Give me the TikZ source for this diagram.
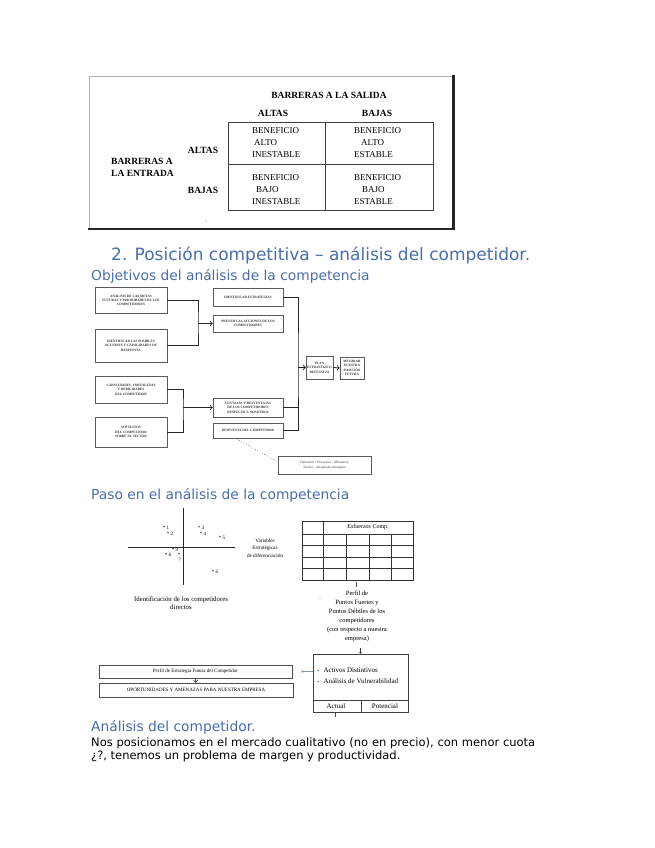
\documentclass[tikz,border=0pt]{standalone}
\usepackage{fontspec}
\setmainfont{DejaVu Sans}
\newfontfamily\scanfont{Liberation Serif}
\definecolor{headblue}{HTML}{4A6DAA}
\newcommand\fsz[2]{\fontsize{#1}{#2}\selectfont}

\begin{document}
\begin{tikzpicture}[x=1pt,y=-1pt,
  heading/.style={text=headblue, inner sep=0pt, font=\fsz{13.8}{16}},
  bodytext/.style={inner sep=0pt, font=\fsz{11.5}{14}},
  scan/.style={inner sep=0pt, font=\scanfont\fsz{9}{12}},
  scanhead/.style={inner sep=0pt, font=\scanfont\bfseries\fsz{9.5}{12}},
  objbox/.style={draw=black!65, line width=0.6pt, align=center, inner sep=1pt,
    text=black!80, font=\scanfont\bfseries\fsz{3.4}{4.4}},
  link/.style={draw=black!85, line width=0.9pt},
  tiny/.style={inner sep=0pt, font=\scanfont\fsz{5}{6}},
  pasobox/.style={draw=black!70, line width=0.5pt, inner sep=0pt,
    font=\scanfont\fsz{5}{6}}]

  \useasboundingbox (0,0) rectangle (655,848);

  %% marco de la imagen escaneada
  \draw[black!30, line width=0.6pt] (89,229) -- (89,76) -- (453,76);
  \draw[black!85, line width=2.4pt] (453.5,75) -- (453.5,230);
  \draw[black!85, line width=1.6pt] (88,229) -- (454.7,229);

  %% tabla de barreras
  \draw[black!75, line width=0.6pt] (228,122) rectangle (433,210);
  \draw[black!75, line width=0.6pt] (325,122) -- (325,210) (228,164) -- (433,164);

  \node[scanhead] (salida) at (329,95) {BARRERAS A LA SALIDA};
  \node[scanhead] (saltas) at (273,113) {ALTAS};
  \node[scanhead] (sbajas) at (377,113) {BAJAS};
  \node[scanhead] (ealtas) at (203,150) {ALTAS};
  \node[scanhead] (ebajas) at (203,190) {BAJAS};
  \node[scanhead, align=left, anchor=west] (entrada) at (111,167)
  {BARRERAS A\\LA ENTRADA};

  \node[scan, align=left, anchor=west] (c11) at (252,143)
  {BENEFICIO\\\hspace{2pt}ALTO\\INESTABLE};
  \node[scan, align=left, anchor=west] (c12) at (354,143)
  {BENEFICIO\\\hspace{7pt}ALTO\\ESTABLE};
  \node[scan, align=left, anchor=west] (c21) at (252,190)
  {BENEFICIO\\\hspace{4pt}BAJO\\INESTABLE};
  \node[scan, align=left, anchor=west] (c22) at (354,190)
  {BENEFICIO\\\hspace{8pt}BAJO\\ESTABLE};
  \node[tiny, text=black!60] (marca) at (206,222) {\textbackslash};

  %% titulos
  \node[heading, font=\fsz{17}{20}, anchor=base west] (titulo) at (111,260)
  {2. Posición competitiva – análisis del competidor.};
  \node[heading, anchor=base west] (objetivos) at (91,280)
  {Objetivos del análisis de la competencia};

  %% objetivos: cajas
  \node[objbox, minimum width=72pt, minimum height=26pt] (a1) at (131,300)
  {ANÁLISIS DE LAS METAS\\FUTURAS Y PRIORIDADES DE LOS\\COMPETIDORES};
  \node[objbox, minimum width=72pt, minimum height=33pt] (a2) at (131,345.5)
  {IDENTIFICAR LAS POSIBLES\\ACCIONES Y CAPACIDADES DE\\RESPUESTA};
  \node[objbox, minimum width=72pt, minimum height=27pt] (a3) at (131,389.5)
  {CAPACIDADES, FORTALEZAS\\Y DEBILIDADES\\DEL COMPETIDOR};
  \node[objbox, minimum width=72pt, minimum height=30pt] (a4) at (131,432)
  {SUPUESTOS\\DEL COMPETIDOR\\SOBRE EL SECTOR};

  \node[objbox, minimum width=70pt, minimum height=18pt] (b1) at (248,297)
  {IDENTIFICAR ESTRATEGIAS};
  \node[objbox, minimum width=70pt, minimum height=17pt] (b2) at (248,323.5)
  {PREVER LAS ACCIONES DE LOS\\COMPETIDORES};
  \node[objbox, minimum width=70pt, minimum height=19pt] (b3) at (248,407.5)
  {VENTAJAS Y DESVENTAJAS\\DE LOS COMPETIDORES\\RESPECTO A NOSOTROS};
  \node[objbox, minimum width=70pt, minimum height=15pt] (b4) at (248,430.5)
  {RESPUESTA DEL COMPETIDOR};

  \node[objbox, minimum width=25pt, minimum height=23pt] (c1) at (319.5,367.5)
  {PLAN\\ESTRATÉGICO\\DEFENSIVO};
  \node[objbox, minimum width=24pt, minimum height=22pt] (c2) at (352,368)
  {MEJORAR\\NUESTRA\\POSICIÓN\\FUTURA};
  \node[objbox, font=\scanfont\fsz{3.4}{4.4}, minimum width=93pt, minimum height=18pt]
  (nota) at (324.5,465)
  {Defensivo / Pro-activo / (Ofensivo)\\Táctico – Respuesta estratégica};

  %% objetivos: conectores
  \coordinate (ja) at (198,323.5);
  \coordinate (jb) at (183,407.5);
  \coordinate (jc) at (298,367.5);

  \draw[link] (a1.east) -| (ja) |- (a2.east); %% a1, a2 -> b2
  \draw[link,->] (ja) -- (b2.west);
  \draw[link] (a3.east) -| (jb) |- (a4.east); %% a3, a4 -> b3
  \draw[link,->] (jb) -- (b3.west);
  \draw[link] (b1.east) -| (jc) |- (b4.east); %% b1, b3, b4 -> c1
  \draw[link] (b3.east) -- (b3.east -| jc);
  \draw[link,->] (jc) -- (c1.west);
  \draw[link,->] (c1.east) -- (c2.west); %% c1 -> c2
  \draw[black!60, dotted, line width=0.6pt] (237,439) -- (nota.west |- 0,462);

  %% paso en el analisis
  \node[heading, anchor=base west] (paso) at (91,499)
  {Paso en el análisis de la competencia};

  \draw[black!85, line width=0.8pt] (128,547) -- (235,547);
  \draw[black!85, line width=0.8pt] (183,508) -- (183,585);

  \node[tiny] (p1) at (166,528) {* 1};
  \node[tiny] (p2) at (170,533.5) {* 2};
  \node[tiny] (p3) at (201,528) {* 3};
  \node[tiny] (p4) at (203,533.5) {* 4};
  \node[tiny] (p5) at (222,538) {* 5};
  \node[tiny] (p9) at (175,549.5) {* 9};
  \node[tiny] (p8) at (168,555) {* 8};
  \node[tiny] (p7a) at (179,554.5) {*};
  \node[tiny] (p7) at (179.5,560) {7};
  \node[tiny] (p6) at (215,572) {* 6};

  \node[tiny, font=\scanfont\fsz{5.2}{7.5}, align=center] (variables) at (265,548)
  {Variables\\Estratégicas\\de diferenciación};
  \node[tiny, font=\scanfont\fsz{6.8}{8.5}, align=center] (identif) at (181,603)
  {Identificación de los competidores\\directos};
  \node[tiny, text=black!40] (flecha) at (320,599) {>};

  %% tabla de esfuerzos
  \draw[black!80, line width=0.6pt] (302,521) rectangle (413,580);
  \draw[black!80, line width=0.6pt] (323,521) -- (323,580);
  \foreach \r in {534,545.5,557,568.5}
    \draw[black!80, line width=0.6pt] (302,\r) -- (413,\r);
  \foreach \c in {346,369,391}
    \draw[black!80, line width=0.6pt] (\c,534) -- (\c,580);
  \node[tiny, font=\scanfont\fsz{6}{7}] (esfuerzos) at (368,527.5) {Esfuerzos Comp.};

  \draw[black!70, line width=0.4pt] (356,582) -- (356,587);
  \node[tiny, font=\scanfont\fsz{6.5}{9}, align=center, anchor=north] (perfil) at (357,591)
  {Perfil de\\Puntos Fuertes y\\Puntos Débiles de los\\competidores\\(con respecto a nuestra\\empresa)};

  %% activos y estrategia futura
  \node[draw=black!75, line width=0.6pt, minimum width=95pt, minimum height=58pt,
  inner sep=0pt] (activos) at (360.5,683) {};
  \draw[black!75, line width=0.6pt] (313,700) -- (408,700);
  \draw[black!75, line width=0.6pt] (361,700) -- (361,712);
  \node[tiny, font=\scanfont\fsz{7}{8}, anchor=west] (distintivos) at (317,670)
  {-\hspace{4pt}Activos Distintivos};
  \node[tiny, font=\scanfont\fsz{7}{8}, anchor=west] (vulner) at (317,681)
  {-\hspace{4pt}Análisis de Vulnerabilidad};
  \node[tiny, font=\scanfont\fsz{7}{8}] (actual) at (336,706.5) {Actual};
  \node[tiny, font=\scanfont\fsz{7}{8}] (potencial) at (385,706.5) {Potencial};
  \draw[black!70, line width=0.4pt] (335,713) -- (335,717);
  \draw[black!80, line width=0.5pt, ->] ([yshift=6pt]activos.north) -- (activos.north);

  \node[pasobox, minimum width=193pt, minimum height=13pt] (futura) at (195.5,671.5)
  {Perfil de Estrategia Futura del Competidor};
  \node[pasobox, minimum width=194pt, minimum height=14pt] (oportun) at (196,690)
  {OPORTUNIDADES Y AMENAZAS PARA NUESTRA EMPRESA};
  \draw[black!85, line width=0.8pt, ->] (futura) -- (oportun); %% futura -> oportunidades
  \draw[headblue!70!black!60, line width=0.5pt, ->, shorten >=9pt]
  (activos.west |- futura.east) -- (futura.east);

  %% analisis del competidor
  \node[heading, anchor=base west] (analisis) at (91,731) {Análisis del competidor.};
  \node[bodytext, anchor=base west] (linea1) at (91,746)
  {\makebox[444pt][s]{Nos posicionamos en el mercado cualitativo (no en precio), con menor cuota}};
  \node[bodytext, anchor=base west] (linea2) at (91,759.5)
  {¿?, tenemos un problema de margen y productividad.};

\end{tikzpicture}
\end{document}
